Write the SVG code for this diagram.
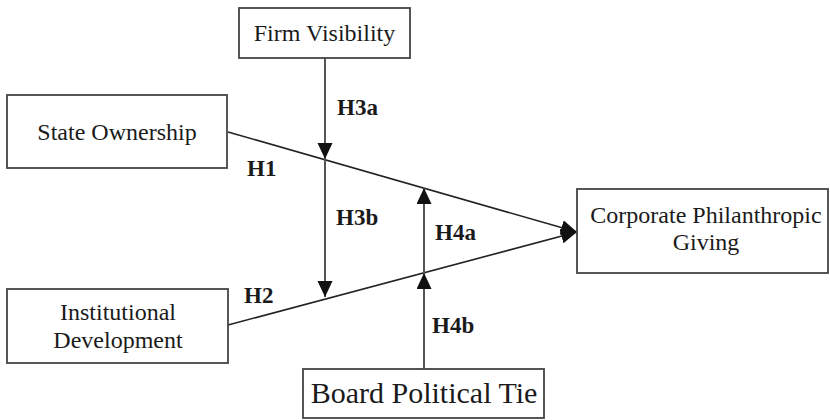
<svg xmlns="http://www.w3.org/2000/svg" width="830" height="420" viewBox="0 0 830 420">
<style>
.box{fill:#fff;stroke:#444;stroke-width:1.8}
.t{font-family:'Liberation Serif','DejaVu Serif',serif;font-size:24px;fill:#1a1a1a;text-anchor:middle}
.h{font-family:'Liberation Serif','DejaVu Serif',serif;font-size:23px;font-weight:bold;fill:#1a1a1a}
.ln{stroke:#222;stroke-width:1.6;fill:none}
.vl{stroke:#555;stroke-width:2;fill:none}
</style>
<defs>
<marker id="ah" markerUnits="userSpaceOnUse" markerWidth="16" markerHeight="16" refX="16" refY="7.5" orient="auto">
<path d="M0,0 L16,7.5 L0,15 z" fill="#111"/>
</marker>
</defs>
<rect width="830" height="420" fill="#fff"/>
<g id="connectors">
<path class="ln" d="M228,132 L577,232" marker-end="url(#ah)"/>
<path class="ln" d="M228,325 L577,232" marker-end="url(#ah)"/>
<path class="vl" d="M325,58 L325,159" marker-end="url(#ah)"/>
<path class="vl" d="M325,159 L325,297" marker-end="url(#ah)"/>
<path class="vl" d="M424,369 L424,273" marker-end="url(#ah)"/>
<path class="vl" d="M424,273 L424,188" marker-end="url(#ah)"/>
<text class="h" x="337" y="115">H3a</text>
<text class="h" x="247" y="176">H1</text>
<text class="h" x="336" y="225">H3b</text>
<text class="h" x="435" y="240">H4a</text>
<text class="h" x="244" y="303">H2</text>
<text class="h" x="432" y="333">H4b</text>
</g>
<g id="firm-visibility">
<rect class="box" x="239" y="8" width="171" height="50"/>
<text class="t" x="324.5" y="41">Firm Visibility</text>
</g>
<g id="state-ownership">
<rect class="box" x="7" y="95" width="220" height="73"/>
<text class="t" x="117" y="140">State Ownership</text>
</g>
<g id="institutional-development">
<rect class="box" x="7" y="289" width="221" height="74"/>
<text class="t" x="118" y="320">Institutional</text>
<text class="t" x="118" y="348">Development</text>
</g>
<g id="corporate-philanthropic-giving">
<rect class="box" x="577" y="189" width="251" height="84"/>
<text class="t" x="706" y="223">Corporate Philanthropic</text>
<text class="t" x="706" y="250">Giving</text>
</g>
<g id="board-political-tie">
<rect class="box" x="303" y="369" width="241" height="49"/>
<text class="t" x="424" y="403" style="font-size:30px">Board Political Tie</text>
</g>
</svg>
